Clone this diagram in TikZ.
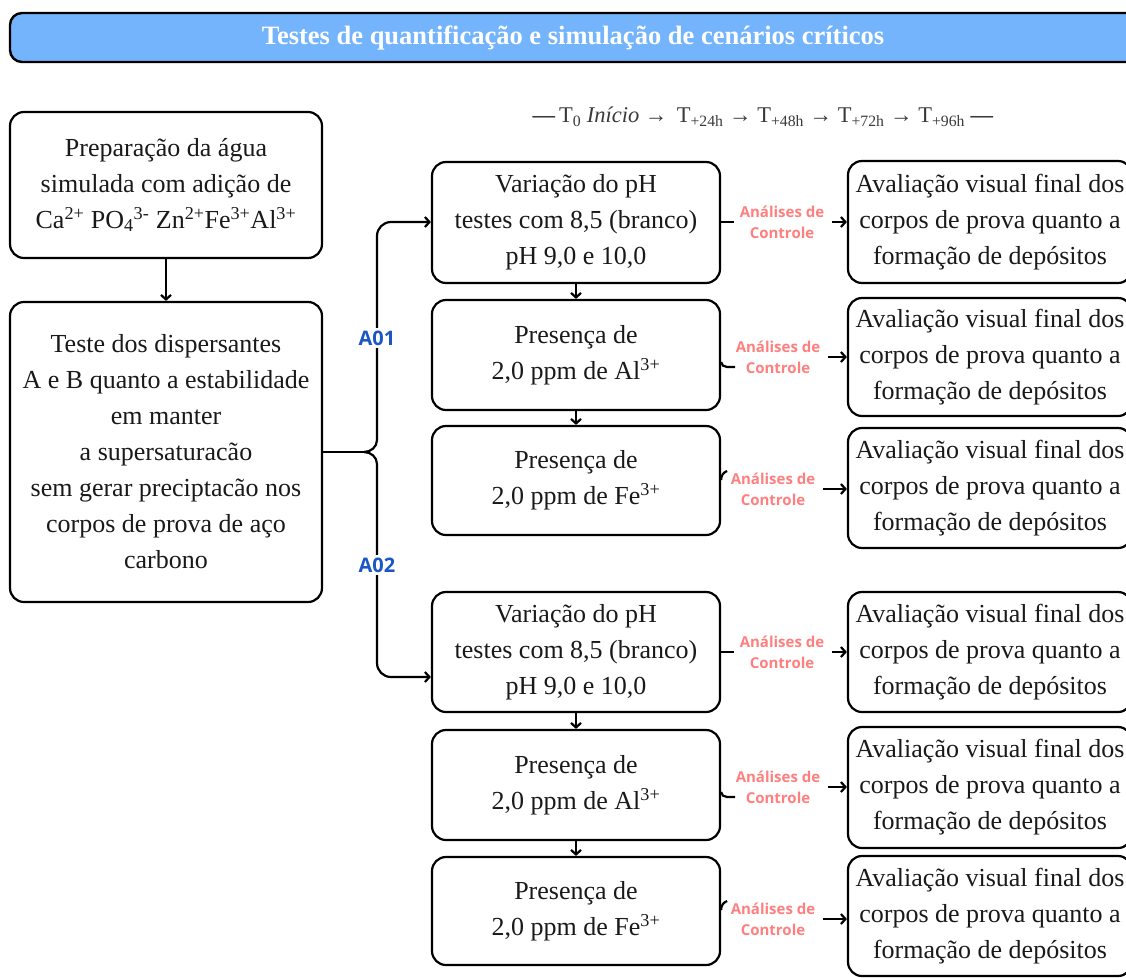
\documentclass[tikz,border=0pt]{standalone}
\usepackage{fontspec}
\setmainfont{Liberation Serif}
\setsansfont{Open Sans}
\usetikzlibrary{arrows.meta}
\definecolor{titleblue}{HTML}{74B4FC}
\definecolor{salmon}{HTML}{FF7F7F}
\definecolor{codeblue}{HTML}{1A56C4}
\definecolor{tlgray}{HTML}{3A3A3A}
\begin{document}
\begin{tikzpicture}[x=1pt,y=-1pt,
  box/.style={draw, line width=2.2pt, rounded corners=14pt, align=center, inner sep=0pt,
    font=\fontsize{26}{36}\selectfont, text=black!90},
  conn/.style={line width=2.2pt},
  arr/.style={line width=2.2pt, -{Straight Barb[length=4.5pt,width=10pt]}},
  lab/.style={font=\sffamily\bfseries\fontsize{15}{21}\selectfont, text=salmon, align=center, inner sep=0pt},
  acode/.style={font=\sffamily\bfseries\fontsize{20}{22}\selectfont, text=codeblue, fill=white, inner sep=3pt}
]
\useasboundingbox (0,0) rectangle (1126,977);
\clip (0,0) rectangle (1126,977);

% title bar
\node[draw, fill=titleblue, line width=2.4pt, rounded corners=12pt, minimum width=1130pt,
  minimum height=49pt, inner sep=0pt, text=white,
  font=\bfseries\fontsize{26.5}{30}\selectfont] (title) at (575,37.5)
  {\hspace*{-4pt}Testes de quantificação e simulação de cenários críticos};

% timeline
\node[font=\fontsize{22.5}{24}\selectfont, text=tlgray, inner sep=0pt] (tl) at (763,117)
  {\textbf{—}\,T\textsubscript{0} \textit{Início} → \,T\textsubscript{+24h} → T\textsubscript{+48h} → T\textsubscript{+72h} → T\textsubscript{+96h} \textbf{—}};

% left boxes
\node[box, minimum width=312pt, minimum height=146pt] (b1) at (166,185)
  {Preparação da água\\simulada com adição de\\Ca\textsuperscript{2+} PO\textsubscript{4}\textsuperscript{3-} Zn\textsuperscript{2+}Fe\textsuperscript{3+}Al\textsuperscript{3+}};
\node[box, minimum width=312pt, minimum height=300pt] (b2) at (166,452)
  {Teste dos dispersantes\\A e B quanto a estabilidade\\em manter\\a supersaturacão\\sem gerar preciptacão nos\\corpos de prova de aço\\carbono};

% middle boxes
\node[box, minimum width=288pt, minimum height=121pt] (m1) at (576,222.5)
  {Variação do pH\\testes com 8,5 (branco)\\pH 9,0 e 10,0};
\node[box, minimum width=288pt, minimum height=110pt] (m2) at (576,355)
  {Presença de\\2,0 ppm de Al\textsuperscript{3+}};
\node[box, minimum width=288pt, minimum height=109pt] (m3) at (576,480.5)
  {Presença de\\2,0 ppm de Fe\textsuperscript{3+}};
\node[box, minimum width=288pt, minimum height=120pt] (m4) at (576,652)
  {Variação do pH\\testes com 8,5 (branco)\\pH 9,0 e 10,0};
\node[box, minimum width=288pt, minimum height=110pt] (m5) at (576,785)
  {Presença de\\2,0 ppm de Al\textsuperscript{3+}};
\node[box, minimum width=288pt, minimum height=108pt] (m6) at (576,911)
  {Presença de\\2,0 ppm de Fe\textsuperscript{3+}};

% right boxes
\foreach \n/\yc/\h in {r1/222/122, r2/357/118, r3/488/120, r4/652/120, r5/787.5/121, r6/916/120}{
  \node[box, minimum width=284pt, minimum height=\h pt] (\n) at (990,\yc)
    {Avaliação visual final dos\\corpos de prova quanto a\\formação de depósitos};
}

% vertical arrows
\draw[arr] (b1.south) -- (b2.north);
\draw[arr] (m1.south) -- (m2.north);
\draw[arr] (m2.south) -- (m3.north);
\draw[arr] (m4.south) -- (m5.north);
\draw[arr] (m5.south) -- (m6.north);

% brace connector
\coordinate (cusp) at (364,452);
\draw[conn] (b2.east) -- (cusp);
\draw[arr] (cusp) to[out=0,in=-90] (377,440) -- (377,236) to[out=90,in=180] (391,222) -- (m1.west |- 0,222);
\draw[arr] (cusp) to[out=0,in=90] (377,464) -- (377,663) to[out=-90,in=180] (391,677) -- (m4.west |- 0,677);
\node[acode] (a01) at (377,338) {A01};
\node[acode] (a02) at (377,565) {A02};

% control analyses
\foreach \m/\r/\lx/\ly [count=\i] in {m1/r1/782/222, m2/r2/778/357, m3/r3/773/489, m4/r4/782/652, m5/r5/778/787, m6/r6/773/919}{
  \node[lab] (lab\i) at (\lx,\ly) {Análises de\\Controle};
  \draw[arr] ([xshift=8pt]lab\i.east) -- (lab\i.east -| \r.west);
}
% ticks
\draw[conn] (m1.east |- lab1.east) -- ++(13,0);
\draw[conn] (m4.east |- lab4.east) -- ++(13,0);
\draw[conn] ([yshift=-5pt]m2.east |- lab2.east) to[out=-90,in=180] ++(6,5) -- ++(8,0);
\draw[conn] ([yshift=-5pt]m5.east |- lab5.east) to[out=-90,in=180] ++(6,5) -- ++(8,0);
\draw[conn] ([yshift=9pt]m3.east |- lab3.east) to[out=90,in=200] ++(6,-9);
\draw[conn] ([yshift=9pt]m6.east |- lab6.east) to[out=90,in=200] ++(6,-9);
\end{tikzpicture}
\end{document}
